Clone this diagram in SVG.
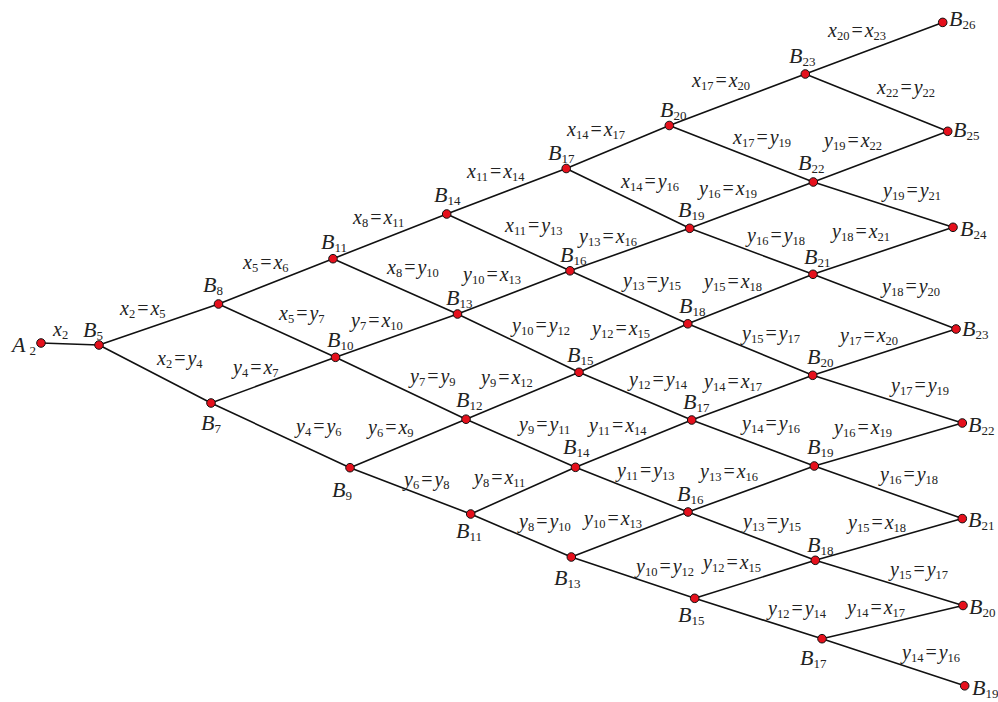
<svg xmlns="http://www.w3.org/2000/svg" width="998" height="702" viewBox="0 0 998 702">
<style>
.ln{stroke:#111;stroke-width:1.6;fill:none;stroke-linecap:round}
.nd{fill:#e5101c;stroke:#111;stroke-width:1}
text{font-family:"Liberation Serif","Times New Roman",serif;fill:#222}
.nl{font-size:22px}
.el{font-size:20px}
.i{font-style:italic}
.s{font-size:13px;font-style:normal}
.el .s{font-size:12.5px}
</style>
<rect width="998" height="702" fill="#fff"/>
<g id="connectors">
<line class="ln" x1="41" y1="343" x2="99" y2="345"/>
<line class="ln" x1="99" y1="345" x2="218.5" y2="304"/>
<line class="ln" x1="99" y1="345" x2="211" y2="403"/>
<line class="ln" x1="218.5" y1="304" x2="333" y2="258.7"/>
<line class="ln" x1="218.5" y1="304" x2="335.5" y2="357.3"/>
<line class="ln" x1="211" y1="403" x2="335.5" y2="357.3"/>
<line class="ln" x1="211" y1="403" x2="350" y2="467.7"/>
<line class="ln" x1="333" y1="258.7" x2="446.7" y2="214"/>
<line class="ln" x1="333" y1="258.7" x2="457.5" y2="314"/>
<line class="ln" x1="335.5" y1="357.3" x2="457.5" y2="314"/>
<line class="ln" x1="335.5" y1="357.3" x2="466" y2="419.2"/>
<line class="ln" x1="350" y1="467.7" x2="466" y2="419.2"/>
<line class="ln" x1="350" y1="467.7" x2="470.7" y2="514"/>
<line class="ln" x1="446.7" y1="214" x2="566.2" y2="168.5"/>
<line class="ln" x1="446.7" y1="214" x2="570" y2="270.8"/>
<line class="ln" x1="457.5" y1="314" x2="570" y2="270.8"/>
<line class="ln" x1="457.5" y1="314" x2="579" y2="372.3"/>
<line class="ln" x1="466" y1="419.2" x2="579" y2="372.3"/>
<line class="ln" x1="466" y1="419.2" x2="575.5" y2="467.3"/>
<line class="ln" x1="470.7" y1="514" x2="575.5" y2="467.3"/>
<line class="ln" x1="470.7" y1="514" x2="571.3" y2="557"/>
<line class="ln" x1="566.2" y1="168.5" x2="669.3" y2="125.5"/>
<line class="ln" x1="566.2" y1="168.5" x2="689.7" y2="228.3"/>
<line class="ln" x1="570" y1="270.8" x2="689.7" y2="228.3"/>
<line class="ln" x1="570" y1="270.8" x2="687.8" y2="323.8"/>
<line class="ln" x1="579" y1="372.3" x2="687.8" y2="323.8"/>
<line class="ln" x1="579" y1="372.3" x2="691.7" y2="420"/>
<line class="ln" x1="575.5" y1="467.3" x2="691.7" y2="420"/>
<line class="ln" x1="575.5" y1="467.3" x2="688" y2="512"/>
<line class="ln" x1="571.3" y1="557" x2="688" y2="512"/>
<line class="ln" x1="571.3" y1="557" x2="694.7" y2="598.3"/>
<line class="ln" x1="669.3" y1="125.5" x2="805.3" y2="74"/>
<line class="ln" x1="669.3" y1="125.5" x2="813.3" y2="182"/>
<line class="ln" x1="689.7" y1="228.3" x2="813.3" y2="182"/>
<line class="ln" x1="689.7" y1="228.3" x2="813" y2="274.3"/>
<line class="ln" x1="687.8" y1="323.8" x2="813" y2="274.3"/>
<line class="ln" x1="687.8" y1="323.8" x2="812.7" y2="375.3"/>
<line class="ln" x1="691.7" y1="420" x2="812.7" y2="375.3"/>
<line class="ln" x1="691.7" y1="420" x2="814.3" y2="466"/>
<line class="ln" x1="688" y1="512" x2="814.3" y2="466"/>
<line class="ln" x1="688" y1="512" x2="815.3" y2="560.3"/>
<line class="ln" x1="694.7" y1="598.3" x2="815.3" y2="560.3"/>
<line class="ln" x1="694.7" y1="598.3" x2="822" y2="638.7"/>
<line class="ln" x1="805.3" y1="74" x2="942.7" y2="22.4"/>
<line class="ln" x1="805.3" y1="74" x2="947.7" y2="131.3"/>
<line class="ln" x1="813.3" y1="182" x2="947.7" y2="131.3"/>
<line class="ln" x1="813.3" y1="182" x2="953" y2="227.3"/>
<line class="ln" x1="813" y1="274.3" x2="953" y2="227.3"/>
<line class="ln" x1="813" y1="274.3" x2="956" y2="329"/>
<line class="ln" x1="812.7" y1="375.3" x2="956" y2="329"/>
<line class="ln" x1="812.7" y1="375.3" x2="962.3" y2="423"/>
<line class="ln" x1="814.3" y1="466" x2="962.3" y2="423"/>
<line class="ln" x1="814.3" y1="466" x2="962.3" y2="518.6"/>
<line class="ln" x1="815.3" y1="560.3" x2="962.3" y2="518.6"/>
<line class="ln" x1="815.3" y1="560.3" x2="963" y2="605.5"/>
<line class="ln" x1="822" y1="638.7" x2="963" y2="605.5"/>
<line class="ln" x1="822" y1="638.7" x2="964.7" y2="685.8"/>
</g>
<g id="edge-labels" class="el">
<text x="53" y="336"><tspan class="i">x</tspan><tspan class="s" dy="3">2</tspan></text>
<text x="120" y="315"><tspan class="i">x</tspan><tspan class="s" dy="3">2</tspan><tspan dy="-3" dx="2">=</tspan><tspan class="i" dx="2">x</tspan><tspan class="s" dy="3">5</tspan></text>
<text x="157" y="365"><tspan class="i">x</tspan><tspan class="s" dy="3">2</tspan><tspan dy="-3" dx="2">=</tspan><tspan class="i" dx="2">y</tspan><tspan class="s" dy="3">4</tspan></text>
<text x="243" y="269"><tspan class="i">x</tspan><tspan class="s" dy="3">5</tspan><tspan dy="-3" dx="2">=</tspan><tspan class="i" dx="2">x</tspan><tspan class="s" dy="3">6</tspan></text>
<text x="279" y="320"><tspan class="i">x</tspan><tspan class="s" dy="3">5</tspan><tspan dy="-3" dx="2">=</tspan><tspan class="i" dx="2">y</tspan><tspan class="s" dy="3">7</tspan></text>
<text x="233" y="374"><tspan class="i">y</tspan><tspan class="s" dy="3">4</tspan><tspan dy="-3" dx="2">=</tspan><tspan class="i" dx="2">x</tspan><tspan class="s" dy="3">7</tspan></text>
<text x="296" y="433"><tspan class="i">y</tspan><tspan class="s" dy="3">4</tspan><tspan dy="-3" dx="2">=</tspan><tspan class="i" dx="2">y</tspan><tspan class="s" dy="3">6</tspan></text>
<text x="353" y="224"><tspan class="i">x</tspan><tspan class="s" dy="3">8</tspan><tspan dy="-3" dx="2">=</tspan><tspan class="i" dx="2">x</tspan><tspan class="s" dy="3">11</tspan></text>
<text x="387" y="274"><tspan class="i">x</tspan><tspan class="s" dy="3">8</tspan><tspan dy="-3" dx="2">=</tspan><tspan class="i" dx="2">y</tspan><tspan class="s" dy="3">10</tspan></text>
<text x="351" y="327"><tspan class="i">y</tspan><tspan class="s" dy="3">7</tspan><tspan dy="-3" dx="2">=</tspan><tspan class="i" dx="2">x</tspan><tspan class="s" dy="3">10</tspan></text>
<text x="410" y="383"><tspan class="i">y</tspan><tspan class="s" dy="3">7</tspan><tspan dy="-3" dx="2">=</tspan><tspan class="i" dx="2">y</tspan><tspan class="s" dy="3">9</tspan></text>
<text x="368" y="434"><tspan class="i">y</tspan><tspan class="s" dy="3">6</tspan><tspan dy="-3" dx="2">=</tspan><tspan class="i" dx="2">x</tspan><tspan class="s" dy="3">9</tspan></text>
<text x="404" y="486"><tspan class="i">y</tspan><tspan class="s" dy="3">6</tspan><tspan dy="-3" dx="2">=</tspan><tspan class="i" dx="2">y</tspan><tspan class="s" dy="3">8</tspan></text>
<text x="467" y="178"><tspan class="i">x</tspan><tspan class="s" dy="3">11</tspan><tspan dy="-3" dx="2">=</tspan><tspan class="i" dx="2">x</tspan><tspan class="s" dy="3">14</tspan></text>
<text x="505" y="232"><tspan class="i">x</tspan><tspan class="s" dy="3">11</tspan><tspan dy="-3" dx="2">=</tspan><tspan class="i" dx="2">y</tspan><tspan class="s" dy="3">13</tspan></text>
<text x="463" y="281"><tspan class="i">y</tspan><tspan class="s" dy="3">10</tspan><tspan dy="-3" dx="2">=</tspan><tspan class="i" dx="2">x</tspan><tspan class="s" dy="3">13</tspan></text>
<text x="512" y="332"><tspan class="i">y</tspan><tspan class="s" dy="3">10</tspan><tspan dy="-3" dx="2">=</tspan><tspan class="i" dx="2">y</tspan><tspan class="s" dy="3">12</tspan></text>
<text x="481" y="384"><tspan class="i">y</tspan><tspan class="s" dy="3">9</tspan><tspan dy="-3" dx="2">=</tspan><tspan class="i" dx="2">x</tspan><tspan class="s" dy="3">12</tspan></text>
<text x="519" y="431"><tspan class="i">y</tspan><tspan class="s" dy="3">9</tspan><tspan dy="-3" dx="2">=</tspan><tspan class="i" dx="2">y</tspan><tspan class="s" dy="3">11</tspan></text>
<text x="474" y="484"><tspan class="i">y</tspan><tspan class="s" dy="3">8</tspan><tspan dy="-3" dx="2">=</tspan><tspan class="i" dx="2">x</tspan><tspan class="s" dy="3">11</tspan></text>
<text x="519" y="528"><tspan class="i">y</tspan><tspan class="s" dy="3">8</tspan><tspan dy="-3" dx="2">=</tspan><tspan class="i" dx="2">y</tspan><tspan class="s" dy="3">10</tspan></text>
<text x="567" y="136"><tspan class="i">x</tspan><tspan class="s" dy="3">14</tspan><tspan dy="-3" dx="2">=</tspan><tspan class="i" dx="2">x</tspan><tspan class="s" dy="3">17</tspan></text>
<text x="621" y="188"><tspan class="i">x</tspan><tspan class="s" dy="3">14</tspan><tspan dy="-3" dx="2">=</tspan><tspan class="i" dx="2">y</tspan><tspan class="s" dy="3">16</tspan></text>
<text x="579" y="243"><tspan class="i">y</tspan><tspan class="s" dy="3">13</tspan><tspan dy="-3" dx="2">=</tspan><tspan class="i" dx="2">x</tspan><tspan class="s" dy="3">16</tspan></text>
<text x="623" y="287"><tspan class="i">y</tspan><tspan class="s" dy="3">13</tspan><tspan dy="-3" dx="2">=</tspan><tspan class="i" dx="2">y</tspan><tspan class="s" dy="3">15</tspan></text>
<text x="592" y="335"><tspan class="i">y</tspan><tspan class="s" dy="3">12</tspan><tspan dy="-3" dx="2">=</tspan><tspan class="i" dx="2">x</tspan><tspan class="s" dy="3">15</tspan></text>
<text x="629" y="386"><tspan class="i">y</tspan><tspan class="s" dy="3">12</tspan><tspan dy="-3" dx="2">=</tspan><tspan class="i" dx="2">y</tspan><tspan class="s" dy="3">14</tspan></text>
<text x="589" y="432"><tspan class="i">y</tspan><tspan class="s" dy="3">11</tspan><tspan dy="-3" dx="2">=</tspan><tspan class="i" dx="2">x</tspan><tspan class="s" dy="3">14</tspan></text>
<text x="617" y="477"><tspan class="i">y</tspan><tspan class="s" dy="3">11</tspan><tspan dy="-3" dx="2">=</tspan><tspan class="i" dx="2">y</tspan><tspan class="s" dy="3">13</tspan></text>
<text x="584" y="525"><tspan class="i">y</tspan><tspan class="s" dy="3">10</tspan><tspan dy="-3" dx="2">=</tspan><tspan class="i" dx="2">x</tspan><tspan class="s" dy="3">13</tspan></text>
<text x="636" y="573"><tspan class="i">y</tspan><tspan class="s" dy="3">10</tspan><tspan dy="-3" dx="2">=</tspan><tspan class="i" dx="2">y</tspan><tspan class="s" dy="3">12</tspan></text>
<text x="692" y="87"><tspan class="i">x</tspan><tspan class="s" dy="3">17</tspan><tspan dy="-3" dx="2">=</tspan><tspan class="i" dx="2">x</tspan><tspan class="s" dy="3">20</tspan></text>
<text x="733" y="144"><tspan class="i">x</tspan><tspan class="s" dy="3">17</tspan><tspan dy="-3" dx="2">=</tspan><tspan class="i" dx="2">y</tspan><tspan class="s" dy="3">19</tspan></text>
<text x="699" y="195"><tspan class="i">y</tspan><tspan class="s" dy="3">16</tspan><tspan dy="-3" dx="2">=</tspan><tspan class="i" dx="2">x</tspan><tspan class="s" dy="3">19</tspan></text>
<text x="747" y="242"><tspan class="i">y</tspan><tspan class="s" dy="3">16</tspan><tspan dy="-3" dx="2">=</tspan><tspan class="i" dx="2">y</tspan><tspan class="s" dy="3">18</tspan></text>
<text x="704" y="288"><tspan class="i">y</tspan><tspan class="s" dy="3">15</tspan><tspan dy="-3" dx="2">=</tspan><tspan class="i" dx="2">x</tspan><tspan class="s" dy="3">18</tspan></text>
<text x="742" y="340"><tspan class="i">y</tspan><tspan class="s" dy="3">15</tspan><tspan dy="-3" dx="2">=</tspan><tspan class="i" dx="2">y</tspan><tspan class="s" dy="3">17</tspan></text>
<text x="704" y="388"><tspan class="i">y</tspan><tspan class="s" dy="3">14</tspan><tspan dy="-3" dx="2">=</tspan><tspan class="i" dx="2">x</tspan><tspan class="s" dy="3">17</tspan></text>
<text x="742" y="430"><tspan class="i">y</tspan><tspan class="s" dy="3">14</tspan><tspan dy="-3" dx="2">=</tspan><tspan class="i" dx="2">y</tspan><tspan class="s" dy="3">16</tspan></text>
<text x="700" y="478"><tspan class="i">y</tspan><tspan class="s" dy="3">13</tspan><tspan dy="-3" dx="2">=</tspan><tspan class="i" dx="2">x</tspan><tspan class="s" dy="3">16</tspan></text>
<text x="743" y="528"><tspan class="i">y</tspan><tspan class="s" dy="3">13</tspan><tspan dy="-3" dx="2">=</tspan><tspan class="i" dx="2">y</tspan><tspan class="s" dy="3">15</tspan></text>
<text x="703" y="569"><tspan class="i">y</tspan><tspan class="s" dy="3">12</tspan><tspan dy="-3" dx="2">=</tspan><tspan class="i" dx="2">x</tspan><tspan class="s" dy="3">15</tspan></text>
<text x="768" y="615"><tspan class="i">y</tspan><tspan class="s" dy="3">12</tspan><tspan dy="-3" dx="2">=</tspan><tspan class="i" dx="2">y</tspan><tspan class="s" dy="3">14</tspan></text>
<text x="828" y="37"><tspan class="i">x</tspan><tspan class="s" dy="3">20</tspan><tspan dy="-3" dx="2">=</tspan><tspan class="i" dx="2">x</tspan><tspan class="s" dy="3">23</tspan></text>
<text x="877" y="94"><tspan class="i">x</tspan><tspan class="s" dy="3">22</tspan><tspan dy="-3" dx="2">=</tspan><tspan class="i" dx="2">y</tspan><tspan class="s" dy="3">22</tspan></text>
<text x="824" y="147"><tspan class="i">y</tspan><tspan class="s" dy="3">19</tspan><tspan dy="-3" dx="2">=</tspan><tspan class="i" dx="2">x</tspan><tspan class="s" dy="3">22</tspan></text>
<text x="883" y="197"><tspan class="i">y</tspan><tspan class="s" dy="3">19</tspan><tspan dy="-3" dx="2">=</tspan><tspan class="i" dx="2">y</tspan><tspan class="s" dy="3">21</tspan></text>
<text x="832" y="238"><tspan class="i">y</tspan><tspan class="s" dy="3">18</tspan><tspan dy="-3" dx="2">=</tspan><tspan class="i" dx="2">x</tspan><tspan class="s" dy="3">21</tspan></text>
<text x="882" y="293"><tspan class="i">y</tspan><tspan class="s" dy="3">18</tspan><tspan dy="-3" dx="2">=</tspan><tspan class="i" dx="2">y</tspan><tspan class="s" dy="3">20</tspan></text>
<text x="840" y="342"><tspan class="i">y</tspan><tspan class="s" dy="3">17</tspan><tspan dy="-3" dx="2">=</tspan><tspan class="i" dx="2">x</tspan><tspan class="s" dy="3">20</tspan></text>
<text x="891" y="392"><tspan class="i">y</tspan><tspan class="s" dy="3">17</tspan><tspan dy="-3" dx="2">=</tspan><tspan class="i" dx="2">y</tspan><tspan class="s" dy="3">19</tspan></text>
<text x="834" y="434"><tspan class="i">y</tspan><tspan class="s" dy="3">16</tspan><tspan dy="-3" dx="2">=</tspan><tspan class="i" dx="2">x</tspan><tspan class="s" dy="3">19</tspan></text>
<text x="880" y="481"><tspan class="i">y</tspan><tspan class="s" dy="3">16</tspan><tspan dy="-3" dx="2">=</tspan><tspan class="i" dx="2">y</tspan><tspan class="s" dy="3">18</tspan></text>
<text x="848" y="529"><tspan class="i">y</tspan><tspan class="s" dy="3">15</tspan><tspan dy="-3" dx="2">=</tspan><tspan class="i" dx="2">x</tspan><tspan class="s" dy="3">18</tspan></text>
<text x="890" y="576"><tspan class="i">y</tspan><tspan class="s" dy="3">15</tspan><tspan dy="-3" dx="2">=</tspan><tspan class="i" dx="2">y</tspan><tspan class="s" dy="3">17</tspan></text>
<text x="847" y="614"><tspan class="i">y</tspan><tspan class="s" dy="3">14</tspan><tspan dy="-3" dx="2">=</tspan><tspan class="i" dx="2">x</tspan><tspan class="s" dy="3">17</tspan></text>
<text x="902" y="659"><tspan class="i">y</tspan><tspan class="s" dy="3">14</tspan><tspan dy="-3" dx="2">=</tspan><tspan class="i" dx="2">y</tspan><tspan class="s" dy="3">16</tspan></text>
</g>
<g id="nodes" class="nl">
<g id="n-A2"><circle class="nd" cx="41" cy="343" r="4.3"/><text x="12" y="352"><tspan class="i">A</tspan><tspan class="s" dx="4" dy="3">2</tspan></text></g>
<g id="n-B5"><circle class="nd" cx="99" cy="345" r="4.3"/><text x="83" y="337"><tspan class="i">B</tspan><tspan class="s" dy="3">5</tspan></text></g>
<g id="n-B8"><circle class="nd" cx="218.5" cy="304" r="4.3"/><text x="203" y="292"><tspan class="i">B</tspan><tspan class="s" dy="3">8</tspan></text></g>
<g id="n-B7"><circle class="nd" cx="211" cy="403" r="4.3"/><text x="201" y="430"><tspan class="i">B</tspan><tspan class="s" dy="3">7</tspan></text></g>
<g id="n-B11-a"><circle class="nd" cx="333" cy="258.7" r="4.3"/><text x="321" y="249"><tspan class="i">B</tspan><tspan class="s" dy="3">11</tspan></text></g>
<g id="n-B10"><circle class="nd" cx="335.5" cy="357.3" r="4.3"/><text x="327" y="347"><tspan class="i">B</tspan><tspan class="s" dy="3">10</tspan></text></g>
<g id="n-B9"><circle class="nd" cx="350" cy="467.7" r="4.3"/><text x="332" y="497"><tspan class="i">B</tspan><tspan class="s" dy="3">9</tspan></text></g>
<g id="n-B14-a"><circle class="nd" cx="446.7" cy="214" r="4.3"/><text x="434" y="202"><tspan class="i">B</tspan><tspan class="s" dy="3">14</tspan></text></g>
<g id="n-B13-a"><circle class="nd" cx="457.5" cy="314" r="4.3"/><text x="446" y="305"><tspan class="i">B</tspan><tspan class="s" dy="3">13</tspan></text></g>
<g id="n-B12"><circle class="nd" cx="466" cy="419.2" r="4.3"/><text x="456" y="407"><tspan class="i">B</tspan><tspan class="s" dy="3">12</tspan></text></g>
<g id="n-B11-b"><circle class="nd" cx="470.7" cy="514" r="4.3"/><text x="456" y="538"><tspan class="i">B</tspan><tspan class="s" dy="3">11</tspan></text></g>
<g id="n-B17-a"><circle class="nd" cx="566.2" cy="168.5" r="4.3"/><text x="548" y="160"><tspan class="i">B</tspan><tspan class="s" dy="3">17</tspan></text></g>
<g id="n-B16-a"><circle class="nd" cx="570" cy="270.8" r="4.3"/><text x="560" y="262"><tspan class="i">B</tspan><tspan class="s" dy="3">16</tspan></text></g>
<g id="n-B15-a"><circle class="nd" cx="579" cy="372.3" r="4.3"/><text x="567" y="362"><tspan class="i">B</tspan><tspan class="s" dy="3">15</tspan></text></g>
<g id="n-B14-b"><circle class="nd" cx="575.5" cy="467.3" r="4.3"/><text x="563" y="454"><tspan class="i">B</tspan><tspan class="s" dy="3">14</tspan></text></g>
<g id="n-B13-b"><circle class="nd" cx="571.3" cy="557" r="4.3"/><text x="554" y="585"><tspan class="i">B</tspan><tspan class="s" dy="3">13</tspan></text></g>
<g id="n-B20-a"><circle class="nd" cx="669.3" cy="125.5" r="4.3"/><text x="660" y="117"><tspan class="i">B</tspan><tspan class="s" dy="3">20</tspan></text></g>
<g id="n-B19-a"><circle class="nd" cx="689.7" cy="228.3" r="4.3"/><text x="678" y="217"><tspan class="i">B</tspan><tspan class="s" dy="3">19</tspan></text></g>
<g id="n-B18-a"><circle class="nd" cx="687.8" cy="323.8" r="4.3"/><text x="679" y="313"><tspan class="i">B</tspan><tspan class="s" dy="3">18</tspan></text></g>
<g id="n-B17-b"><circle class="nd" cx="691.7" cy="420" r="4.3"/><text x="683" y="409"><tspan class="i">B</tspan><tspan class="s" dy="3">17</tspan></text></g>
<g id="n-B16-b"><circle class="nd" cx="688" cy="512" r="4.3"/><text x="677" y="501"><tspan class="i">B</tspan><tspan class="s" dy="3">16</tspan></text></g>
<g id="n-B15-b"><circle class="nd" cx="694.7" cy="598.3" r="4.3"/><text x="678" y="622"><tspan class="i">B</tspan><tspan class="s" dy="3">15</tspan></text></g>
<g id="n-B23-a"><circle class="nd" cx="805.3" cy="74" r="4.3"/><text x="789" y="63"><tspan class="i">B</tspan><tspan class="s" dy="3">23</tspan></text></g>
<g id="n-B22-a"><circle class="nd" cx="813.3" cy="182" r="4.3"/><text x="798" y="170"><tspan class="i">B</tspan><tspan class="s" dy="3">22</tspan></text></g>
<g id="n-B21-a"><circle class="nd" cx="813" cy="274.3" r="4.3"/><text x="804" y="264"><tspan class="i">B</tspan><tspan class="s" dy="3">21</tspan></text></g>
<g id="n-B20-b"><circle class="nd" cx="812.7" cy="375.3" r="4.3"/><text x="807" y="364"><tspan class="i">B</tspan><tspan class="s" dy="3">20</tspan></text></g>
<g id="n-B19-b"><circle class="nd" cx="814.3" cy="466" r="4.3"/><text x="807" y="454"><tspan class="i">B</tspan><tspan class="s" dy="3">19</tspan></text></g>
<g id="n-B18-b"><circle class="nd" cx="815.3" cy="560.3" r="4.3"/><text x="807" y="552"><tspan class="i">B</tspan><tspan class="s" dy="3">18</tspan></text></g>
<g id="n-B17-c"><circle class="nd" cx="822" cy="638.7" r="4.3"/><text x="800" y="665"><tspan class="i">B</tspan><tspan class="s" dy="3">17</tspan></text></g>
<g id="n-B26"><circle class="nd" cx="942.7" cy="22.4" r="4.3"/><text x="949" y="26"><tspan class="i">B</tspan><tspan class="s" dy="3">26</tspan></text></g>
<g id="n-B25"><circle class="nd" cx="947.7" cy="131.3" r="4.3"/><text x="953" y="137"><tspan class="i">B</tspan><tspan class="s" dy="3">25</tspan></text></g>
<g id="n-B24"><circle class="nd" cx="953" cy="227.3" r="4.3"/><text x="960" y="236"><tspan class="i">B</tspan><tspan class="s" dy="3">24</tspan></text></g>
<g id="n-B23-b"><circle class="nd" cx="956" cy="329" r="4.3"/><text x="962" y="336"><tspan class="i">B</tspan><tspan class="s" dy="3">23</tspan></text></g>
<g id="n-B22-b"><circle class="nd" cx="962.3" cy="423" r="4.3"/><text x="968" y="432"><tspan class="i">B</tspan><tspan class="s" dy="3">22</tspan></text></g>
<g id="n-B21-b"><circle class="nd" cx="962.3" cy="518.6" r="4.3"/><text x="968" y="527"><tspan class="i">B</tspan><tspan class="s" dy="3">21</tspan></text></g>
<g id="n-B20-c"><circle class="nd" cx="963" cy="605.5" r="4.3"/><text x="969" y="614"><tspan class="i">B</tspan><tspan class="s" dy="3">20</tspan></text></g>
<g id="n-B19-c"><circle class="nd" cx="964.7" cy="685.8" r="4.3"/><text x="972" y="695"><tspan class="i">B</tspan><tspan class="s" dy="3">19</tspan></text></g>
</g>
</svg>
